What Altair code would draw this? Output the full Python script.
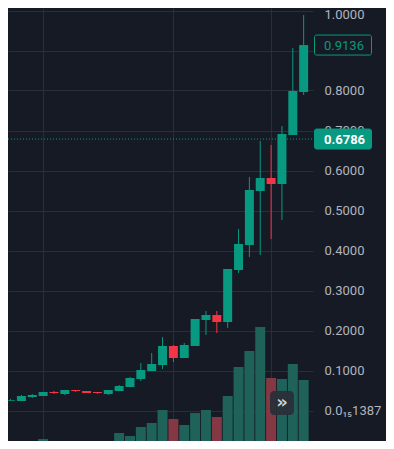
import altair as alt
import pandas as pd

# ---- data ----
candle_index = list(range(28))
opens = [0.0245, 0.0238, 0.0338, 0.0363, 0.0463, 0.0413, 0.0513, 0.0488, 0.0463, 0.0413,
         0.0488, 0.0588, 0.0788, 0.0988, 0.1138, 0.1613, 0.1313, 0.1613, 0.2263, 0.2388,
         0.2213, 0.3513, 0.4138, 0.5488, 0.5813, 0.5663, 0.6888, 0.7963]
highs = [0.0288, 0.0388, 0.0413, 0.0463, 0.0488, 0.0513, 0.0513, 0.0488, 0.0463, 0.0513,
         0.0638, 0.0838, 0.1188, 0.1438, 0.1838, 0.1638, 0.1688, 0.2288, 0.2488, 0.2488,
         0.3538, 0.4538, 0.5838, 0.6738, 0.6638, 0.7113, 0.9063, 0.9888]
lows = [0.0238, 0.0238, 0.0313, 0.0363, 0.0413, 0.0388, 0.0463, 0.0438, 0.0413, 0.0388,
        0.0488, 0.0588, 0.0738, 0.0988, 0.1038, 0.1213, 0.1313, 0.1613, 0.1888, 0.1938,
        0.2063, 0.3438, 0.3838, 0.3888, 0.4288, 0.4763, 0.6888, 0.7888]
closes = [0.0263, 0.0363, 0.0388, 0.0463, 0.0438, 0.0513, 0.0488, 0.0438, 0.0438, 0.0513,
          0.0613, 0.0813, 0.1013, 0.1163, 0.1613, 0.1313, 0.1638, 0.2288, 0.2388, 0.2213,
          0.3538, 0.4163, 0.5513, 0.5813, 0.5663, 0.6913, 0.7988, 0.9136]
volumes = [4, 5, 4, 8, 4, 4, 6, 4, 4, 5, 14, 11, 20, 24, 37, 28, 22, 34, 37, 30,
           51, 80, 96, 120, 69, 68, 83, 67]

time_grid = [3, 15, 24]
price_ticks = [0.0, 0.1, 0.2, 0.3, 0.4, 0.5, 0.6, 0.7, 0.8, 0.9, 1.0]
# 0.9000 sits fully under the last-price tag in the reference
price_tick_labels = ["0.0₁₅1387", "0.1000", "0.2000", "0.3000", "0.4000", "0.5000",
                     "0.6000", "0.7000", "0.8000", "", "1.0000"]
last_price = 0.9136
last_label = "0.9136"
line_price = 0.6786
line_label = "0.6786"

# ---- styling ----
BG = "#161A25"
GRID = "#2A2E39"
UP = "#089981"
DOWN = "#F23645"
VOL_UP = "#1E625A"
VOL_DOWN = "#843843"
LABEL = "#B2B5BE"
FONT = "Roboto"

df = pd.DataFrame({"i": candle_index, "open": opens, "high": highs, "low": lows,
                   "close": closes, "volume": volumes})
df["base"] = 0

x_enc = alt.X("i:Q",
              scale=alt.Scale(domain=[0.2228, 27.40], nice=False, zero=False),
              axis=alt.Axis(values=time_grid, grid=True, labels=False, ticks=False,
                            domain=False, title=None, gridColor=GRID, gridOpacity=1))
yscale = alt.Scale(domain=[-0.07625, 1.00625], nice=False, zero=False)
label_expr = "[" + ",".join("'" + s + "'" for s in price_tick_labels) + "][round(datum.value*10)]"
price_axis = alt.Axis(orient="right", values=price_ticks, grid=True, gridColor=GRID,
                      gridOpacity=1, domain=False, ticks=False, tickSize=0,
                      labelPadding=11, labelAlign="left", labelExpr=label_expr,
                      labelFont=FONT, labelFontSize=13, labelColor=LABEL,
                      labelOffset={"condition": {"test": "datum.value > 0.95", "value": 4},
                                   "value": 0},
                      labelOverlap=False, labelFlush=False, title=None, zindex=0)

up_cond_candle = alt.condition("datum.close >= datum.open", alt.value(UP), alt.value(DOWN))
up_cond_vol = alt.condition("datum.close >= datum.open", alt.value(VOL_UP), alt.value(VOL_DOWN))

vol = alt.Chart(df).mark_bar(size=10, clip=True).encode(
    x=x_enc,
    y=alt.Y("volume:Q", scale=alt.Scale(domain=[6, 439], nice=False, zero=False), axis=None),
    y2="base:Q",
    color=up_cond_vol,
)

line_df = pd.DataFrame({"p": [line_price]})
dotted = alt.Chart(line_df).mark_rule(strokeDash=[1, 2], color=UP, strokeWidth=1).encode(
    y=alt.Y("p:Q", scale=yscale, axis=price_axis),
    x=alt.value(0), x2=alt.value(305),
)

wicks = alt.Chart(df).mark_rule(strokeWidth=1, clip=True).encode(
    x=x_enc,
    y=alt.Y("low:Q", scale=yscale, axis=price_axis),
    y2="high:Q",
    color=up_cond_candle,
)

bodies = alt.Chart(df).mark_bar(size=9, clip=True).encode(
    x=x_enc,
    y=alt.Y("open:Q", scale=yscale, axis=price_axis),
    y2="close:Q",
    color=up_cond_candle,
)

lab_df = pd.DataFrame({
    "p": [last_price, line_price],
    "top": [last_price + 0.025, line_price + 0.025],
    "bot": [last_price - 0.025, line_price - 0.025],
    "txt": [last_label, line_label],
    "fill": [BG, UP],
    "tcol": [UP, "#FFFFFF"],
})

boxes = alt.Chart(lab_df).mark_rect(stroke=UP, strokeWidth=1, cornerRadius=2).encode(
    y=alt.Y("top:Q", scale=yscale, axis=price_axis),
    y2="bot:Q",
    x=alt.value(306.5), x2=alt.value(363.5),
    fill=alt.Color("fill:N", scale=None),
)

box_text_reg = alt.Chart(lab_df.iloc[[0]]).mark_text(
    align="left", baseline="middle", font=FONT, fontSize=13, dy=1
).encode(
    y=alt.Y("p:Q", scale=yscale, axis=price_axis),
    x=alt.value(316),
    text="txt:N",
    color=alt.Color("tcol:N", scale=None),
)
box_text_bold = alt.Chart(lab_df.iloc[[1]]).mark_text(
    align="left", baseline="middle", font=FONT, fontSize=13, fontWeight="bold", dy=1
).encode(
    y=alt.Y("p:Q", scale=yscale, axis=price_axis),
    x=alt.value(316),
    text="txt:N",
    color=alt.Color("tcol:N", scale=None),
)

btn_df = pd.DataFrame({"t": ["»"]})
button = alt.Chart(btn_df).mark_rect(cornerRadius=4, color="#2A2E39", opacity=0.95).encode(
    x=alt.value(262), x2=alt.value(286), y=alt.value(383), y2=alt.value(407),
)
button_txt = alt.Chart(btn_df).mark_text(
    font="DejaVu Sans", fontSize=18, fontWeight="bold", color="#D1D4DC",
    align="center", baseline="middle"
).encode(x=alt.value(274), y=alt.value(395), text="t:N")

price_layers = alt.layer(dotted, wicks, bodies, boxes, box_text_reg, box_text_bold,
                         button, button_txt)

chart = alt.layer(vol, price_layers).resolve_scale(y="independent").properties(
    width=305, height=433,
    padding={"left": 0, "top": 0, "right": 73, "bottom": 0},
    autosize=alt.AutoSizeParams(type="none"),
    background=BG,
).configure_view(stroke=None)

chart.save("out.html", embed_options={"renderer": "svg", "actions": False})
